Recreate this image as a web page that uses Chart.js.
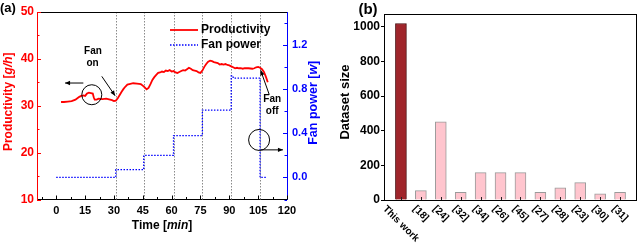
<!DOCTYPE html>
<html><head><meta charset="utf-8">
<script src="https://cdn.jsdelivr.net/npm/chart.js@4/dist/chart.umd.min.js"></script>
<style>
html,body{margin:0;padding:0;background:#fff;}
#wrap{position:relative;width:640px;height:243px;overflow:hidden;background:#fff;}
.box{position:absolute;top:0;width:320px;height:243px;}
</style></head><body>
<div id="wrap">
<div class="box" style="left:0"><canvas id="ca" width="320" height="243"></canvas></div>
<div class="box" style="left:320px"><canvas id="cb" width="320" height="243"></canvas></div>
</div>
<script>
// ---------- data (a) ----------
const timeMin = [2.5,4,6,8,10,11,12,13,14,15,16,17,18,19,19.5,20,21,22,24,26,28,29,30,31,32,33,34,35,36,37,38,40,42,44,45,46,47,48,49,50,51,52,53,54,55,56,57,58,59,60,61,62,63,64,65,66,67,68,69,70,71,72,73,74,75,76,77,78,79,80,81,82,83,84,85,86,87,88,89,90,91,92,93,94,95,96,97,98,100,102,103,104,105,106,107,108,109,110];
const productivity = [30.8,30.8,30.9,31.0,31.3,31.6,31.9,32.1,32.2,32.1,32.6,32.8,32.7,32.6,31.8,31.3,31.3,31.5,31.4,31.5,31.3,31.2,31.0,31.1,31.6,32.3,33.0,33.6,34.1,34.5,34.6,34.8,34.7,34.6,34.3,33.9,33.5,33.8,34.6,35.5,36.1,36.6,37.0,37.1,37.3,37.2,37.5,37.4,37.6,37.3,37.4,37.1,37.0,37.2,37.4,37.6,37.5,37.8,38.1,37.9,37.6,37.5,37.4,37.1,37.0,37.5,38.3,38.9,39.4,39.6,39.5,39.3,39.2,39.1,38.8,38.9,38.8,38.9,38.7,38.6,38.4,38.2,38.0,38.1,38.0,38.0,37.9,38.0,38.0,37.9,38.0,38.2,38.3,38.1,37.8,37.2,36.2,35.0];
const fanTime = [0,31,45.5,61,76,91,92,106,109];
const fanPower = [0,0.07,0.2,0.38,0.61,0.92,0.9,0,0];
const fanChangeTimes = [31,45.5,61,76,91,106];
const timeTicks = [0,15,30,45,60,75,90,105,120];
const productivityTicks = [10,20,30,40,50];
const powerTicks = [0,0.4,0.8,1.2];

// ---------- data (b) ----------
const categories = ['This work','[18]','[24]','[32]','[34]','[26]','[45]','[27]','[28]','[23]','[30]','[31]'];
const datasetSizes = [1020,54,452,44,158,158,158,44,71,100,36,44];
const sizeTicks = [0,200,400,600,800,1000];

const RED = '#ff0000', BLUE = '#0000ff';
const FA = '"Liberation Sans", Arial, sans-serif';

function ln(ctx, x1, y1, x2, y2) { ctx.beginPath(); ctx.moveTo(x1, y1); ctx.lineTo(x2, y2); ctx.stroke(); }
function rp(v) { return Math.round(v) + 0.5; }
function rich(ctx, parts, x, y, size, color) {
  const fonts = parts.map(p => (p[1] ? 'italic ' : '') + 'bold ' + size + 'px ' + FA);
  let total = 0;
  parts.forEach((p, i) => { ctx.font = fonts[i]; total += ctx.measureText(p[0]).width; });
  let cx = x - total / 2;
  ctx.fillStyle = color; ctx.textAlign = 'left'; ctx.textBaseline = 'middle';
  parts.forEach((p, i) => { ctx.font = fonts[i]; ctx.fillText(p[0], cx, y); cx += ctx.measureText(p[0]).width; });
}
function arrow(ctx, x1, y1, x2, y2) {
  ctx.strokeStyle = '#000'; ctx.fillStyle = '#000'; ctx.lineWidth = 1;
  ln(ctx, x1, y1, x2, y2);
  const ang = Math.atan2(y2 - y1, x2 - x1), L = 5, W = 2.2;
  ctx.beginPath();
  ctx.moveTo(x2, y2);
  ctx.lineTo(x2 - L * Math.cos(ang) + W * Math.sin(ang), y2 - L * Math.sin(ang) - W * Math.cos(ang));
  ctx.lineTo(x2 - L * Math.cos(ang) - W * Math.sin(ang), y2 - L * Math.sin(ang) + W * Math.cos(ang));
  ctx.closePath(); ctx.fill();
}

const plugA = {
  id: 'plugA',
  beforeDatasetsDraw(chart) {
    const { ctx, chartArea: a, scales: { x } } = chart;
    ctx.save();
    ctx.strokeStyle = '#8a8a8a'; ctx.lineWidth = 1; ctx.setLineDash([1.5, 1.5]);
    fanChangeTimes.forEach(t => { const px = rp(x.getPixelForValue(t)); ln(ctx, px, a.top, px, a.bottom); });
    ctx.restore();
  },
  afterDraw(chart) {
    const { ctx, chartArea: a, scales: { x, y, y1 } } = chart;
    ctx.save();
    ctx.lineWidth = 1;
    ctx.strokeStyle = '#000';
    ln(ctx, a.left, rp(a.top), a.right, rp(a.top));
    for (let t = -7.5; t <= 120; t += 7.5) {
      const px = rp(x.getPixelForValue(t));
      ln(ctx, px, a.bottom, px, a.bottom - (t % 15 === 0 ? 4 : 2.5));
    }
    ctx.strokeStyle = RED;
    for (let v = 10; v <= 50; v += 5) {
      const py = rp(y.getPixelForValue(v));
      ln(ctx, a.left, py, a.left + (v % 10 === 0 ? 4 : 2.5), py);
    }
    ctx.strokeStyle = BLUE;
    for (let k = -1; k <= 7; k++) {
      const v = k * 0.2, py = rp(y1.getPixelForValue(v));
      ln(ctx, a.right, py, a.right - (k % 2 === 0 ? 4 : 2.5), py);
    }
    ctx.save(); ctx.translate(9, (a.top + a.bottom) / 2 - 4); ctx.rotate(-Math.PI / 2);
    rich(ctx, [['Productivity [', 0], ['g/h', 1], [']', 0]], 0, 0, 12, RED); ctx.restore();
    ctx.save(); ctx.translate(314, (a.top + a.bottom) / 2 - 3); ctx.rotate(-Math.PI / 2);
    rich(ctx, [['Fan power [', 0], ['w', 1], [']', 0]], 0, 0, 12.5, BLUE); ctx.restore();
    rich(ctx, [['Time [', 0], ['min', 1], [']', 0]], (a.left + a.right) / 2, 226, 12, '#000');
    ctx.font = 'bold 13px ' + FA; ctx.fillStyle = '#000'; ctx.textAlign = 'left'; ctx.textBaseline = 'middle';
    ctx.fillText('(a)', 0, 8);
    ctx.strokeStyle = RED; ctx.lineWidth = 1.8; ln(ctx, 170, 30, 198, 30);
    ctx.strokeStyle = BLUE; ctx.lineWidth = 1.3; ctx.setLineDash([1.5, 1.5]); ln(ctx, 170, 45, 198, 45); ctx.setLineDash([]);
    ctx.font = 'bold 12px ' + FA; ctx.fillStyle = '#000';
    ctx.fillText('Productivity', 201, 30);
    ctx.fillText('Fan power', 201, 45);
    const X = t => x.getPixelForValue(t), Y = v => y.getPixelForValue(v), Y1 = v => y1.getPixelForValue(v);
    ctx.strokeStyle = '#000'; ctx.lineWidth = 1;
    ctx.beginPath(); ctx.arc(X(18.5), Y(32.35), 10, 0, Math.PI * 2); ctx.stroke();
    arrow(ctx, X(14.1), Y(34.85), X(4.6), Y(34.85));
    arrow(ctx, X(23.7), Y(36.27), X(30.6), Y(32.14));
    ctx.font = 'bold 10px ' + FA; ctx.fillStyle = '#000'; ctx.textAlign = 'center'; ctx.textBaseline = 'middle';
    ctx.fillText('Fan', X(19.1), Y(41.6));
    ctx.fillText('on', X(18.9), Y(39.1));
    ctx.beginPath(); ctx.arc(X(105.5), Y1(0.34), 10.5, 0, Math.PI * 2); ctx.stroke();
    arrow(ctx, X(106.5), Y1(0.25), X(117.9), Y1(0.25));
    arrow(ctx, X(110.8), Y(32.35), X(106.3), Y(37.55));
    ctx.fillStyle = '#000';
    ctx.fillText('Fan', X(112.3), Y(31.3));
    ctx.fillText('off', X(112.3), Y(28.8));
    ctx.restore();
  }
};

new Chart(document.getElementById('ca'), {
  type: 'line',
  data: { datasets: [
    { label: 'Productivity', data: timeMin.map((t, i) => ({ x: t, y: productivity[i] })), borderColor: RED, borderWidth: 1.8, pointRadius: 0, yAxisID: 'y', tension: 0 },
    { label: 'Fan power', data: fanTime.map((t, i) => ({ x: t, y: fanPower[i] })), borderColor: BLUE, borderWidth: 1.3, borderDash: [1.5, 1.5], pointRadius: 0, stepped: 'before', yAxisID: 'y1' }
  ] },
  options: {
    responsive: false, animation: false, devicePixelRatio: 1,
    layout: { padding: { top: 12, left: 0, right: 0, bottom: 0 } },
    plugins: { legend: { display: false }, tooltip: { enabled: false } },
    scales: {
      x: { type: 'linear', min: -10, max: 120,
        afterBuildTicks: s => { s.ticks = timeTicks.map(v => ({ value: v })); },
        afterFit: s => { s.height = 43.5; },
        grid: { display: false, drawTicks: false }, border: { display: true, color: '#000', width: 1 },
        ticks: { font: { family: FA, size: 11, weight: 'bold' }, color: '#000', padding: 5, maxRotation: 0, autoSkip: false } },
      y: { position: 'left', min: 10, max: 50,
        afterBuildTicks: s => { s.ticks = productivityTicks.map(v => ({ value: v })); },
        afterFit: s => { s.width = 37; },
        grid: { display: false, drawTicks: false }, border: { display: true, color: RED, width: 1 },
        ticks: { font: { family: FA, size: 12, weight: 'bold' }, color: RED, padding: 3 } },
      y1: { position: 'right', min: -0.2, max: 1.5,
        afterBuildTicks: s => { s.ticks = powerTicks.map(v => ({ value: v })); },
        afterFit: s => { s.width = 33; },
        grid: { display: false, drawTicks: false }, border: { display: true, color: BLUE, width: 1 },
        ticks: { font: { family: FA, size: 11, weight: 'bold' }, color: BLUE, padding: 5, callback: v => Number(v).toFixed(1) } }
    }
  },
  plugins: [plugA]
});

const plugB = {
  id: 'plugB',
  afterDraw(chart) {
    const { ctx, chartArea: a, scales: { x } } = chart;
    ctx.save();
    ctx.strokeStyle = '#000'; ctx.lineWidth = 1;
    ctx.strokeRect(rp(a.left), rp(a.top), Math.round(a.right - a.left), Math.round(a.bottom - a.top));
    ctx.strokeStyle = '#222';
    categories.forEach((c, i) => { const px = rp(x.getPixelForValue(i)); ln(ctx, px, a.bottom, px, a.bottom - 3); });
    ctx.font = 'bold 10px ' + FA; ctx.fillStyle = '#000'; ctx.textAlign = 'center'; ctx.textBaseline = 'middle';
    categories.forEach((c, i) => {
      const w = ctx.measureText(c).width, h = 9;
      const cx = x.getPixelForValue(i), cy = a.bottom + 4 + (w + h) * Math.SQRT1_2 / 2;
      ctx.save(); ctx.translate(cx, cy); ctx.rotate(Math.PI / 4); ctx.fillText(c, 0, 0); ctx.restore();
    });
    ctx.save(); ctx.translate(25, 102); ctx.rotate(-Math.PI / 2);
    ctx.font = 'bold 13px ' + FA; ctx.fillText('Dataset size', 0, 0); ctx.restore();
    ctx.font = 'bold 15px ' + FA; ctx.fillText('(b)', 48, 10);
    ctx.restore();
  }
};

new Chart(document.getElementById('cb'), {
  type: 'bar',
  data: { datasets: [{
    data: datasetSizes.map((v, i) => ({ x: i, y: v })),
    backgroundColor: categories.map((c, i) => i === 0 ? '#A0252B' : '#FFC5CE'),
    borderColor: categories.map((c, i) => i === 0 ? '#4a0c0e' : '#9a9a9a'),
    borderWidth: 1, barThickness: 11
  }] },
  options: {
    responsive: false, animation: false, devicePixelRatio: 1,
    layout: { padding: { top: 14, left: 0, right: 4, bottom: 0 } },
    plugins: { legend: { display: false }, tooltip: { enabled: false } },
    scales: {
      x: { type: 'linear', min: -0.85, max: 11.8, offset: false,
        afterFit: s => { s.height = 43; },
        ticks: { display: false }, grid: { display: false, drawTicks: false }, border: { display: false } },
      y: { min: 0, max: 1075,
        afterBuildTicks: s => { s.ticks = sizeTicks.map(v => ({ value: v })); },
        afterFit: s => { s.width = 64; },
        grid: { display: true, drawOnChartArea: false, drawTicks: true, tickLength: 3, color: '#000' },
        border: { display: true, color: '#000' },
        ticks: { font: { family: FA, size: 12, weight: 'bold' }, color: '#000', padding: 1, callback: v => String(v) } }
    }
  },
  plugins: [plugB]
});
</script>
</body></html>
